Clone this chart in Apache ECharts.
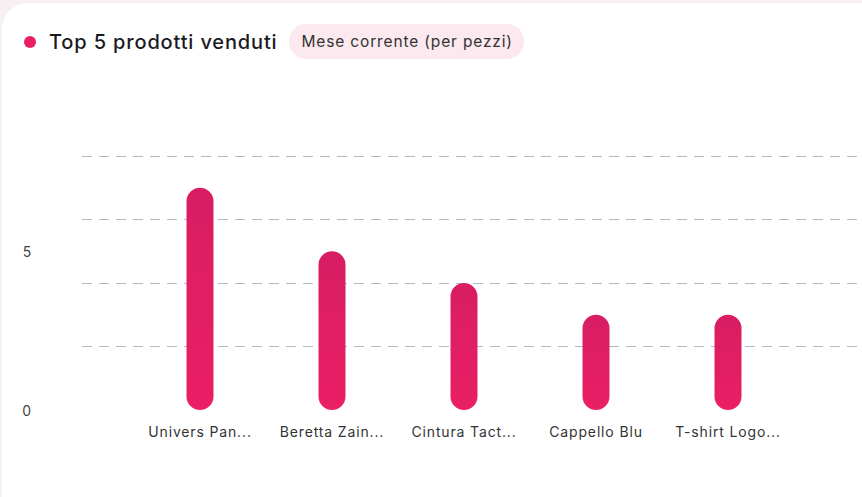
<!DOCTYPE html>
<html>
<head>
<meta charset="utf-8">
<script src="https://cdn.jsdelivr.net/npm/echarts@6/dist/echarts.min.js"></script>
<style>
  html, body { margin: 0; padding: 0; width: 862px; height: 497px; overflow: hidden; background: #f7f0f3; font-family: Inter, "Noto Sans", sans-serif; }
  #card { position: absolute; left: 2px; top: 3px; width: 880px; height: 520px; background: #ffffff; border-radius: 26px; }
  #chart { position: absolute; left: 0; top: 0; width: 862px; height: 497px; }
  #chart svg text { letter-spacing: 0.85px; }
  #head { position: absolute; left: 24px; top: 24px; height: 35px; display: flex; align-items: center; }
  #dot { width: 12px; height: 12px; border-radius: 50%; background: #e91e63; margin-right: 13px; }
  #title { font-size: 20px; font-weight: 500; color: #1b1b1f; letter-spacing: 0.85px; }
  #badge { margin-left: 12px; height: 35px; line-height: 35px; padding: 0 11px 0 12px; border-radius: 17px; background: #fce8ef; font-size: 15.5px; color: #333; letter-spacing: 0.85px; }
</style>
</head>
<body>
<div id="card"></div>
<div id="chart"></div>
<div id="head"><div id="dot"></div><div id="title">Top 5 prodotti venduti</div><div id="badge">Mese corrente (per pezzi)</div></div>
<script>
const categories = ["Univers Pan...", "Beretta Zain...", "Cintura Tact...", "Cappello Blu", "T-shirt Logo..."];
const values = [7, 5, 4, 3, 3];
const yMax = 8;

const chart = echarts.init(document.getElementById('chart'), null, { renderer: 'svg' });
chart.setOption({
  animation: false,
  grid: [
    { left: 82, right: 2, top: 156, bottom: 87 },
    { left: 134, right: 68, top: 156, bottom: 87 }
  ],
  xAxis: [
    { type: 'value', gridIndex: 0, show: false, min: 0, max: 1 },
    {
      type: 'category', gridIndex: 1, data: categories, boundaryGap: true,
      axisLine: { show: false }, axisTick: { show: false },
      axisLabel: { color: '#333', fontSize: 14, fontFamily: 'Inter', margin: 14, interval: 0 }
    }
  ],
  yAxis: [
    {
      type: 'value', gridIndex: 0, min: 0, max: yMax, interval: 2,
      axisLine: { show: false }, axisTick: { show: false }, axisLabel: { show: false },
      splitLine: { show: true, showMinLine: false, lineStyle: { color: '#a9bdc6', type: [10, 7], width: 1 } }
    },
    {
      type: 'value', gridIndex: 0, min: 0, max: yMax, interval: 5, position: 'left',
      axisLine: { show: false }, axisTick: { show: false }, splitLine: { show: false },
      axisLabel: { show: true, showMaxLabel: false, color: '#444', fontSize: 14, fontFamily: 'Inter', margin: 50, padding: [6, 0, 0, 0] }
    },
    {
      type: 'value', gridIndex: 1, min: 0, max: yMax, show: false
    }
  ],
  series: [{
    type: 'bar', xAxisIndex: 1, yAxisIndex: 2, data: values, barWidth: 27,
    itemStyle: {
      borderRadius: 13.5,
      color: new echarts.graphic.LinearGradient(0, 0, 0, 1, [
        { offset: 0, color: '#d81d62' },
        { offset: 1, color: '#ea1f65' }
      ])
    }
  }]
});
</script>
</body>
</html>
